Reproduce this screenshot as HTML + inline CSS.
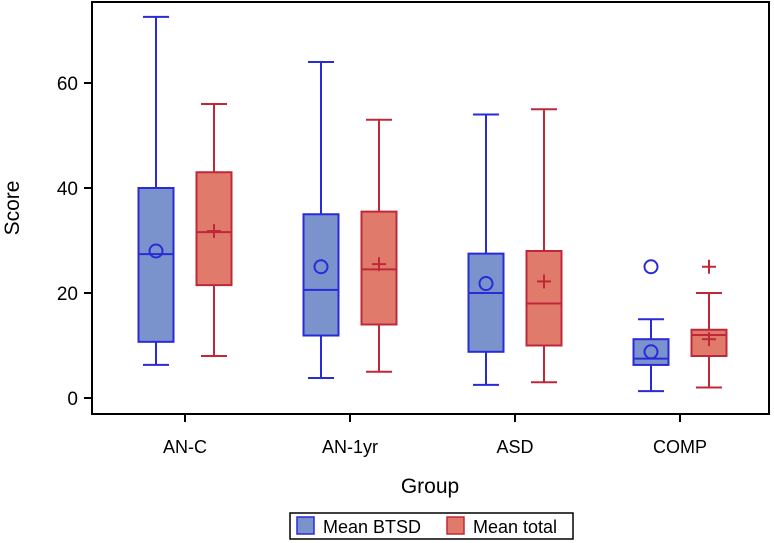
<!DOCTYPE html>
<html><head><meta charset="utf-8"><style>
body{margin:0;background:#fff;}
svg{display:block;font-family:"Liberation Sans",Arial,sans-serif;}
</style></head><body>
<svg id="chart" width="774" height="543">
<rect x="92" y="2" width="677" height="412" fill="#fff" stroke="#000" stroke-width="2"/>
<g id="marks"></g>
<text x="430" y="493" font-size="21" text-anchor="middle">Group</text>
<text transform="translate(19,208) rotate(-90)" font-size="21" text-anchor="middle">Score</text>
<g>
<rect x="290" y="513" width="283" height="26" fill="#fff" stroke="#000" stroke-width="1.5"/>
<rect x="297" y="517" width="17" height="17" fill="#7b93cc" stroke="#2a2ad8" stroke-width="1.5"/>
<text x="323" y="533" font-size="18">Mean BTSD</text>
<rect x="447" y="517" width="17" height="17" fill="#e07b6c" stroke="#c0283a" stroke-width="1.5"/>
<text x="473" y="533" font-size="18">Mean total</text>
</g>
</svg>
<script>
const categories=["AN-C","AN-1yr","ASD","COMP"];
const btsdMin=[6.3,3.8,2.5,1.3];
const btsdQ1=[10.7,11.9,8.8,6.3];
const btsdMedian=[27.4,20.6,20,7.5];
const btsdQ3=[40,35,27.5,11.2];
const btsdMax=[72.6,64,54,15];
const btsdMean=[28,25,21.8,8.8];
const btsdOutliers=[[],[],[],[25]];
const totalMin=[8,5,3,2];
const totalQ1=[21.5,14,10,8];
const totalMedian=[31.6,24.5,18,12];
const totalQ3=[43,35.5,28,13];
const totalMax=[56,53,55,20];
const totalMean=[31.8,25.5,22.2,11.2];
const totalOutliers=[[],[],[],[25]];
const yTicks=[0,20,40,60];

const NS="http://www.w3.org/2000/svg";
const svg=document.getElementById('chart');
const g=document.getElementById('marks');
const y=v=>398-v*5.25;
const x=i=>185+i*165;
function el(tag,attrs,parent){const e=document.createElementNS(NS,tag);for(const k in attrs)e.setAttribute(k,attrs[k]);(parent||g).appendChild(e);return e;}

yTicks.forEach(t=>{
  const tk=el('line',{x1:84,x2:92,y1:y(t),y2:y(t),stroke:'#000','stroke-width':2},svg);
  
  
  const tx=el('text',{x:78,y:y(t)+7,'font-size':19,'text-anchor':'end'},svg);
  tx.textContent=t;
  
  
});
categories.forEach((c,i)=>{
  const tk=el('line',{x1:x(i),x2:x(i),y1:414,y2:422,stroke:'#000','stroke-width':2},svg);
  
  
  const tx=el('text',{x:x(i),y:453,'font-size':18,'text-anchor':'middle'},svg);
  tx.textContent=c;
  
  
});

function box(i,off,mn,q1,md,q3,mx,mean,outs,fill,stroke,series,marker){
  const cx=x(i)+off, w=35, hw=w/2, cap=13;
  const grp=el('g',{});
  
  
  const s={stroke:stroke,'stroke-width':2,fill:'none'};
  el('line',Object.assign({x1:cx,x2:cx,y1:y(mx),y2:y(q3)},s),grp);
  el('line',Object.assign({x1:cx,x2:cx,y1:y(q1),y2:y(mn)},s),grp);
  el('line',Object.assign({x1:cx-cap,x2:cx+cap,y1:y(mx),y2:y(mx)},s),grp);
  el('line',Object.assign({x1:cx-cap,x2:cx+cap,y1:y(mn),y2:y(mn)},s),grp);
  el('rect',{x:cx-hw,y:y(q3),width:w,height:y(q1)-y(q3),fill:fill,stroke:stroke,'stroke-width':2},grp);
  el('line',Object.assign({x1:cx-hw,x2:cx+hw,y1:y(md),y2:y(md)},s),grp);
  const pts=[mean].concat(outs);
  pts.forEach(v=>{
    if(marker==='circle') el('circle',Object.assign({cx:cx,cy:y(v),r:6.5},s),grp);
    else{el('line',Object.assign({x1:cx-7,x2:cx+7,y1:y(v),y2:y(v)},s),grp);el('line',Object.assign({x1:cx,x2:cx,y1:y(v)-7,y2:y(v)+7},s),grp);}
  });
}
categories.forEach((c,i)=>{
  box(i,-29,btsdMin[i],btsdQ1[i],btsdMedian[i],btsdQ3[i],btsdMax[i],btsdMean[i],btsdOutliers[i],'#7b93cc','#2a2ad8','btsd','circle');
  box(i,29,totalMin[i],totalQ1[i],totalMedian[i],totalQ3[i],totalMax[i],totalMean[i],totalOutliers[i],'#e07b6c','#c0283a','total','plus');
});
</script>
</body></html>
